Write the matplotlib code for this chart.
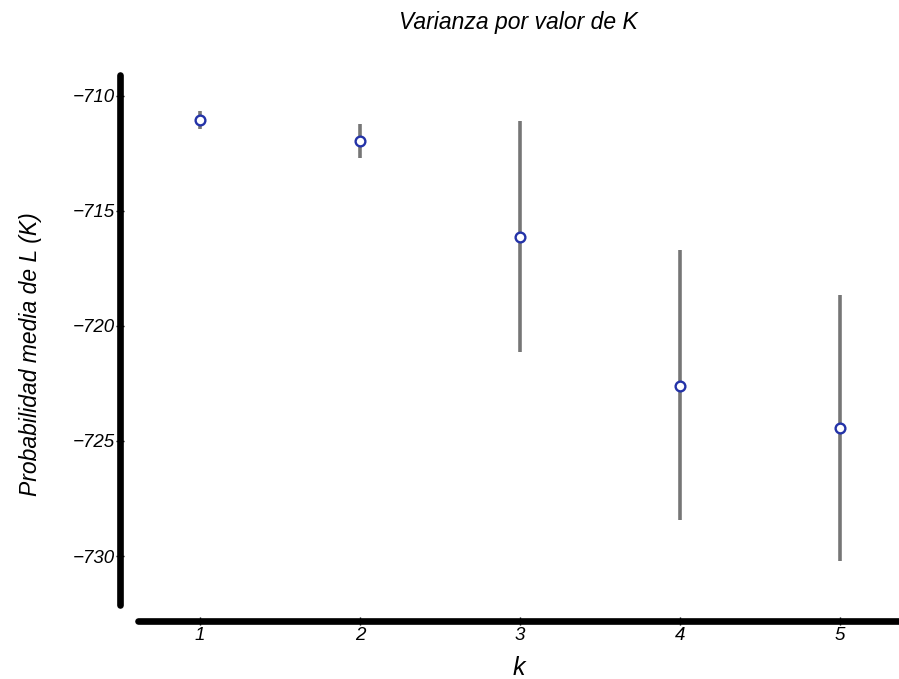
import matplotlib.pyplot as plt

# data
k_values = [1, 2, 3, 4, 5]
mean_L = [-711.05, -711.95, -716.15, -722.6, -724.45]
lower_L = [-711.45, -712.7, -721.15, -728.45, -730.2]
upper_L = [-710.65, -711.2, -711.1, -716.7, -718.65]

err_low = [m - lo for m, lo in zip(mean_L, lower_L)]
err_high = [hi - m for m, hi in zip(mean_L, upper_L)]

plt.rcParams['font.family'] = ['Liberation Sans', 'DejaVu Sans']
plt.rcParams['font.style'] = 'italic'

fig = plt.figure(figsize=(8.99, 6.79), dpi=100)
W, H = 899, 679
# axes box in pixels: x 138..899, y 75..605
ax = fig.add_axes([138 / W, 1 - 605 / H, (899 - 138) / W, (605 - 75) / H])

ax.errorbar(k_values, mean_L, yerr=[err_low, err_high], fmt='none',
            ecolor='#767676', elinewidth=2.6, capsize=0, zorder=2)
ax.plot(k_values, mean_L, 'o', markersize=7, markerfacecolor='white',
        markeredgecolor='#2433a8', markeredgewidth=1.7, zorder=3)

ax.set_xlim(0.6125, 5.369)
ax.set_ylim(-732.13, -709.09)
ax.set_xticks(k_values)
ax.set_yticks([-710, -715, -720, -725, -730])

for side in ['top', 'right']:
    ax.spines[side].set_visible(False)
ax.spines['left'].set_position(('outward', 13))
ax.spines['bottom'].set_position(('outward', 11.5))
for side in ['left', 'bottom']:
    ax.spines[side].set_linewidth(4.8)
    ax.spines[side].set_capstyle('round')

ax.tick_params(direction='inout', length=6, width=1, labelsize=13.5, pad=1)

ax.set_title('Varianza por valor de K', fontsize=16.5, style='italic', pad=33)
ax.set_ylabel('Probabilidad media de L (K)', fontsize=16.5, style='italic')
ax.yaxis.set_label_coords(-0.126, 0.474)
ax.set_xlabel('k', fontsize=18, style='italic', labelpad=9)

fig.savefig('out.png', dpi=100)
